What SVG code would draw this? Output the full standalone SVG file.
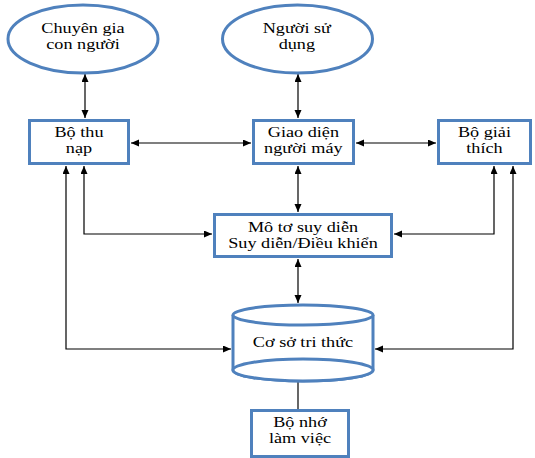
<svg xmlns="http://www.w3.org/2000/svg" width="535" height="458" viewBox="0 0 535 458">
<style>
.n{fill:#fff;stroke:#4f81bd;stroke-width:3}
.c{fill:none;stroke:#000;stroke-width:1.2}
.t{font-family:"Liberation Serif","Times New Roman",serif;font-size:14px;fill:#000;text-anchor:middle;transform-box:fill-box;transform-origin:center;transform:scaleX(1.3)}
</style>
<defs>
<marker id="a" markerUnits="userSpaceOnUse" markerWidth="9" markerHeight="8" refX="8" refY="3.5" orient="auto-start-reverse" viewBox="0 0 9 8">
<path d="M0,0 L8,3.5 L0,7 z" fill="#000"/>
</marker>
</defs>
<g id="connectors">
<path class="c" d="M85,74 V118" marker-start="url(#a)" marker-end="url(#a)"/>
<path class="c" d="M298,74 V118" marker-start="url(#a)" marker-end="url(#a)"/>
<path class="c" d="M131,143 H251" marker-start="url(#a)" marker-end="url(#a)"/>
<path class="c" d="M356,143 H436" marker-start="url(#a)" marker-end="url(#a)"/>
<path class="c" d="M298,166 V212" marker-start="url(#a)" marker-end="url(#a)"/>
<path class="c" d="M84,166 V234 H212" marker-start="url(#a)" marker-end="url(#a)"/>
<path class="c" d="M66,166 V349 H231" marker-start="url(#a)" marker-end="url(#a)"/>
<path class="c" d="M494,166 V234 H394" marker-start="url(#a)" marker-end="url(#a)"/>
<path class="c" d="M513,166 V349 H375" marker-start="url(#a)" marker-end="url(#a)"/>
<path class="c" d="M298,259 V303" marker-start="url(#a)" marker-end="url(#a)"/>
<path class="c" d="M298,409 V372" marker-end="url(#a)"/>
</g>
<g id="chuyen-gia">
<ellipse class="n" cx="83" cy="39" rx="75" ry="34"/>
<text class="t"><tspan x="83" y="33.5">Chuyên gia</tspan><tspan x="83" y="49.5">con người</tspan></text>
</g>
<g id="nguoi-su-dung">
<ellipse class="n" cx="297.5" cy="39" rx="75" ry="34"/>
<text class="t"><tspan x="297" y="33.5">Người sử</tspan><tspan x="297" y="49.5">dụng</tspan></text>
</g>
<g id="bo-thu-nap">
<rect class="n" x="29.5" y="120.5" width="99" height="43"/>
<text class="t"><tspan x="79" y="137.5">Bộ thu</tspan><tspan x="79" y="153.5">nạp</tspan></text>
</g>
<g id="giao-dien">
<rect class="n" x="253.5" y="120.5" width="100" height="43"/>
<text class="t"><tspan x="303.5" y="137.5">Giao diện</tspan><tspan x="303.5" y="153.5">người máy</tspan></text>
</g>
<g id="bo-giai-thich">
<rect class="n" x="438.5" y="120.5" width="92" height="43"/>
<text class="t"><tspan x="484.5" y="137.5">Bộ giải</tspan><tspan x="484.5" y="153.5">thích</tspan></text>
</g>
<g id="mo-to">
<rect class="n" x="214.5" y="214.5" width="177" height="42"/>
<text class="t"><tspan x="303" y="232">Mô tơ suy diễn</tspan><tspan x="303" y="248">Suy diễn/Điều khiển</tspan></text>
</g>
<g id="co-so-tri-thuc">
<path class="n" d="M233,315 V370 A70,11 0 0 0 373,370 V315"/>
<ellipse class="n" cx="303" cy="370" rx="70" ry="11"/>
<ellipse class="n" cx="303" cy="315" rx="70" ry="10"/>
<text class="t" x="303" y="347">Cơ sở tri thức</text>
</g>
<g id="bo-nho">
<rect class="n" x="251.5" y="410.5" width="97" height="46"/>
<text class="t"><tspan x="300" y="427">Bộ nhớ</tspan><tspan x="300" y="443">làm việc</tspan></text>
</g>
</svg>
